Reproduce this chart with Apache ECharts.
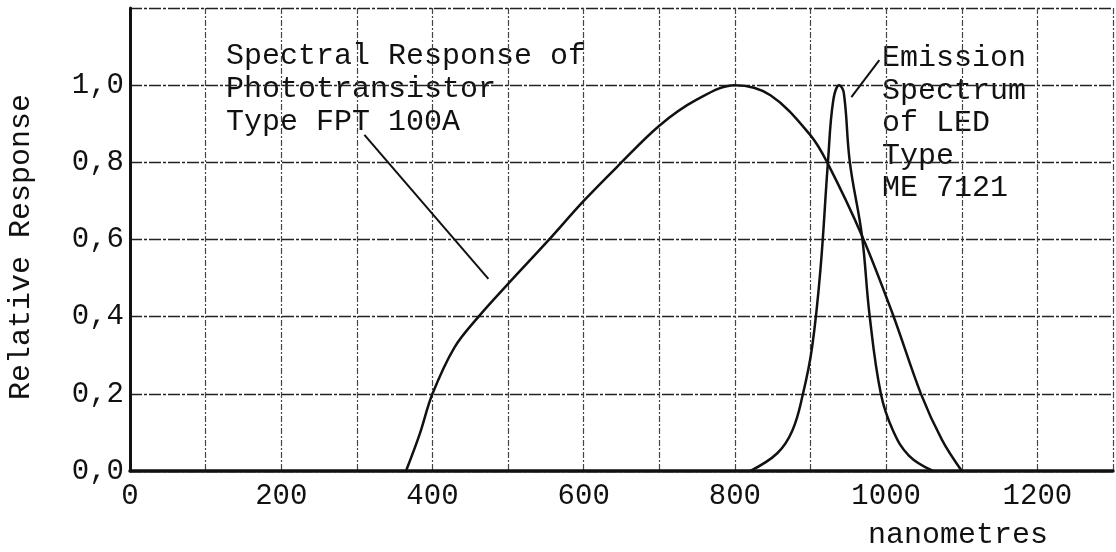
<!DOCTYPE html>
<html>
<head>
<meta charset="utf-8">
<title>Spectral response</title>
<script src="https://cdn.jsdelivr.net/npm/echarts@6/dist/echarts.min.js"></script>
<style>
  html, body { margin: 0; padding: 0; background: #fff; }
  #chart { width: 1116px; height: 552px; }
</style>
</head>
<body>
<div id="chart"></div>
<script>
/* data: wavelength (nm) and relative response */
var photoNm   = [365, 383, 400, 429, 461, 500, 552, 600, 645, 700, 750, 800, 847, 900, 922, 968, 1009, 1046, 1074, 1100];
var photoResp = [0, 0.095, 0.2, 0.32, 0.4, 0.485, 0.595, 0.7, 0.79, 0.895, 0.963, 1.0, 0.974, 0.87, 0.8, 0.61, 0.405, 0.2, 0.08, 0];

var ledNm   = [820, 856, 876, 890, 902, 913, 923, 930, 938, 944, 952, 968, 978, 993, 1009, 1030, 1062];
var ledResp = [0, 0.046, 0.105, 0.2, 0.32, 0.52, 0.8, 0.96, 1.0, 0.98, 0.8, 0.61, 0.405, 0.2, 0.105, 0.04, 0];

var xTicks = [0, 200, 400, 600, 800, 1000, 1200];
var yTicks = [0, 0.2, 0.4, 0.6, 0.8, 1.0];

/* leader lines, in data coordinates */
var photoLeader = [[310, 0.871], [474, 0.498]];
var ledLeader   = [[991, 1.065], [954, 0.969]];

var FONT = '"Liberation Mono", "DejaVu Sans Mono", monospace';
var INK = '#111';

function pairs(xs, ys) {
  return xs.map(function (x, i) { return [x, ys[i]]; });
}

var chart = echarts.init(document.getElementById('chart'));

var option = {
  animation: false,
  backgroundColor: '#fff',
  grid: { left: 130, right: 2, top: 8, bottom: 81 },
  xAxis: {
    type: 'value',
    min: 0,
    max: 1300,
    interval: 100,
    axisLine: { lineStyle: { color: INK, width: 3.5 } },
    axisTick: { show: false },
    axisLabel: {
      margin: 11,
      color: INK,
      fontFamily: FONT,
      fontSize: 29,
      formatter: function (v) { return xTicks.indexOf(v) >= 0 ? String(v) : ''; }
    },
    splitLine: { show: true, lineStyle: { color: '#444', width: 1.2, type: [6, 2, 2, 2] } }
  },
  yAxis: {
    type: 'value',
    min: 0,
    max: 1.2,
    interval: 0.2,
    axisLine: { show: true, lineStyle: { color: INK, width: 3 } },
    axisTick: { show: false },
    axisLabel: {
      margin: 6,
      color: INK,
      fontFamily: FONT,
      fontSize: 29,
      formatter: function (v) {
        var r = Math.round(v * 10) / 10;
        return yTicks.indexOf(r) >= 0 ? r.toFixed(1).replace('.', ',') : '';
      }
    },
    splitLine: { show: true, lineStyle: { color: '#222', width: 1.3, type: [12, 2, 3, 2] } }
  },
  series: [
    {
      name: 'Phototransistor FPT 100A',
      type: 'line',
      data: pairs(photoNm, photoResp),
      smooth: 0.35,
      showSymbol: false,
      lineStyle: { color: INK, width: 2.5 },
      markLine: {
        silent: true,
        symbol: ['none', 'none'],
        label: { show: false },
        lineStyle: { color: INK, width: 2, type: 'solid' },
        data: [
          [{ coord: photoLeader[0] }, { coord: photoLeader[1] }],
          [{ coord: ledLeader[0] }, { coord: ledLeader[1] }]
        ]
      }
    },
    {
      name: 'LED ME 7121',
      type: 'line',
      data: pairs(ledNm, ledResp),
      smooth: 0.4,
      showSymbol: false,
      lineStyle: { color: INK, width: 2.5 }
    }
  ],
  graphic: [
    {
      type: 'text',
      x: 226, y: 40,
      style: {
        text: 'Spectral Response of\nPhototransistor\nType FPT 100A',
        font: '30px ' + FONT, fill: INK, lineHeight: 33,
        textAlign: 'left', textVerticalAlign: 'top'
      }
    },
    {
      type: 'text',
      x: 882, y: 42,
      style: {
        text: 'Emission\nSpectrum\nof LED\nType\nME 7121',
        font: '30px ' + FONT, fill: INK, lineHeight: 32.5,
        textAlign: 'left', textVerticalAlign: 'top'
      }
    },
    {
      type: 'text',
      x: 21, y: 247,
      rotation: Math.PI / 2,
      style: {
        text: 'Relative Response',
        font: '30px ' + FONT, fill: INK,
        textAlign: 'center', textVerticalAlign: 'middle'
      }
    },
    {
      type: 'text',
      x: 958, y: 535,
      style: {
        text: 'nanometres',
        font: '30px ' + FONT, fill: INK,
        textAlign: 'center', textVerticalAlign: 'middle'
      }
    }
  ]
};

chart.setOption(option);
</script>
</body>
</html>
